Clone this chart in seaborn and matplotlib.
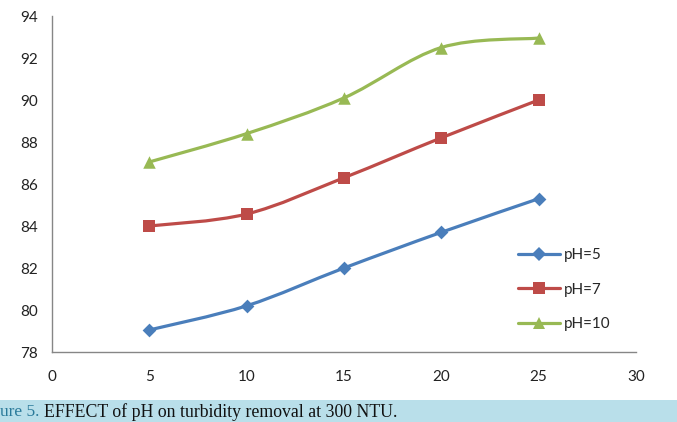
import numpy as np
import pandas as pd
import matplotlib
matplotlib.use("Agg")
import matplotlib.pyplot as plt
import seaborn as sns
from matplotlib.path import Path
from matplotlib.patches import PathPatch
from matplotlib.lines import Line2D

# data
dose = [5, 10, 15, 20, 25]
ph5 = [79.05, 80.2, 82.0, 83.7, 85.3]
ph7 = [84.0, 84.57, 86.3, 88.2, 90.0]
ph10 = [87.05, 88.4, 90.1, 92.5, 92.95]

labels = ["pH=5", "pH=7", "pH=10"]
colors = ["#4a7ebb", "#be4b48", "#98b954"]
markers = ["D", "s", "^"]
msizes = [7, 9, 9]

df = pd.DataFrame({"x": dose * 3,
                   "y": ph5 + ph7 + ph10,
                   "series": [labels[0]] * 5 + [labels[1]] * 5 + [labels[2]] * 5})

sns.set_style("white")
plt.rcParams['font.family'] = ['Lato', 'DejaVu Sans']

fig = plt.figure(figsize=(6.77, 4.22), dpi=100)
ax = fig.add_axes([52 / 677, 70 / 422, 584 / 677, 336 / 422])


def smooth_path(xs, ys):
    # excel style smoothed line: bezier segments through the data points
    pts = list(zip(xs, ys))
    verts = [pts[0]]
    codes = [Path.MOVETO]
    n = len(pts)
    for i in range(n - 1):
        p0 = pts[i - 1] if i > 0 else pts[i]
        p1 = pts[i]
        p2 = pts[i + 1]
        p3 = pts[i + 2] if i + 2 < n else pts[i + 1]
        c1 = (p1[0] + (p2[0] - p0[0]) / 6, p1[1] + (p2[1] - p0[1]) / 6)
        c2 = (p2[0] - (p3[0] - p1[0]) / 6, p2[1] - (p3[1] - p1[1]) / 6)
        verts += [c1, c2, p2]
        codes += [Path.CURVE4] * 3
    return Path(verts, codes)


for lab, col, ys in zip(labels, colors, [ph5, ph7, ph10]):
    ax.add_patch(PathPatch(smooth_path(dose, ys), facecolor="none",
                           edgecolor=col, linewidth=2.3, zorder=2))

for lab, col, mk, ms in zip(labels, colors, markers, msizes):
    sub = df[df["series"] == lab]
    sns.scatterplot(data=sub, x="x", y="y", color=col, marker=mk,
                    s=ms ** 2, edgecolor=col, linewidth=0, ax=ax,
                    zorder=3, legend=False)

ax.set_xlim(0, 30)
ax.set_ylim(78, 94)
ax.set_xticks(range(0, 31, 5))
ax.set_yticks(range(78, 95, 2))
ax.set_xlabel("")
ax.set_ylabel("")
for side in ["top", "right"]:
    ax.spines[side].set_visible(False)
for side in ["left", "bottom"]:
    ax.spines[side].set_color("#868686")
    ax.spines[side].set_linewidth(1.0)
ax.tick_params(axis="both", direction="out", length=4, width=1,
               color="#868686", labelsize=11, labelcolor="#222222")
ax.tick_params(axis="x", pad=9)
ax.tick_params(axis="y", pad=6)

handles = [Line2D([0], [0], color=c, lw=2.3, marker=m, markersize=s,
                  markeredgewidth=0) for c, m, s in zip(colors, markers, msizes)]
ax.legend(handles, labels, loc="upper left", bbox_to_anchor=(0.775, 0.35),
          frameon=False, fontsize=11, handlelength=2.7, handletextpad=0.25,
          labelspacing=1.35)

# caption band
fig.patches.append(plt.Rectangle((0, 0), 1, 22 / 422, transform=fig.transFigure,
                                 facecolor="#b9dfea", edgecolor="none", zorder=0))
fig.text(0.0, 10 / 422, "ure 5.", color="#2a7a9a", fontsize=12.5,
         family=["Liberation Serif"], va="center", ha="left")
fig.text(44 / 677, 10 / 422, "EFFECT of pH on turbidity removal at 300 NTU.",
         color="#111111", fontsize=12.8, family=["Liberation Serif"],
         va="center", ha="left")

fig.savefig("out.png", dpi=100)
